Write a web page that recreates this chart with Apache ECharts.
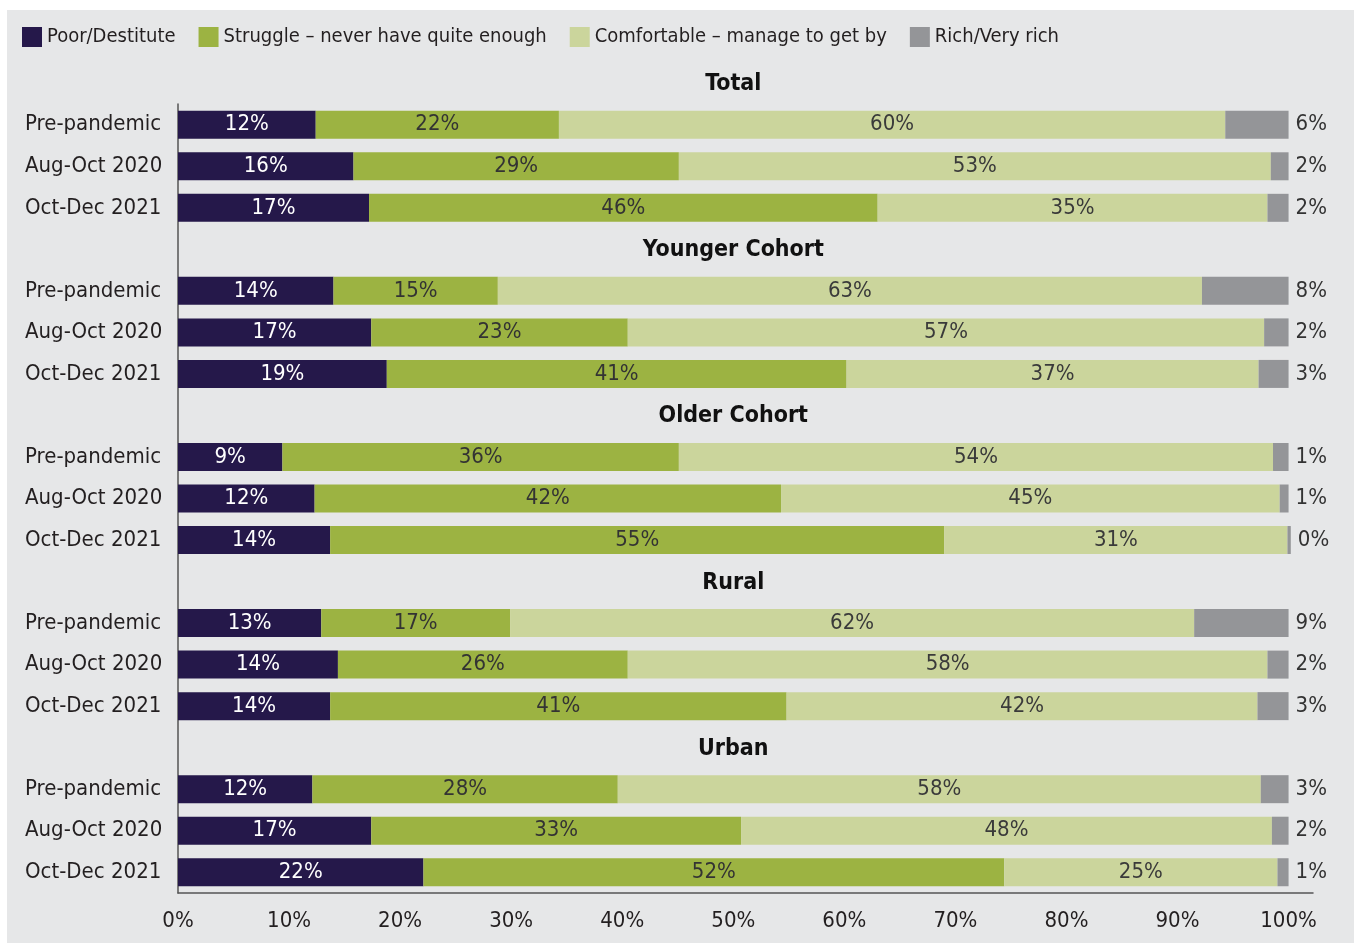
<!DOCTYPE html>
<html>
<head>
<meta charset="utf-8">
<script src="https://cdn.jsdelivr.net/npm/echarts@6/dist/echarts.min.js"></script>
<style>
  html, body { margin: 0; padding: 0; background: #ffffff; }
  #bg { position: absolute; left: 7px; top: 10px; right: 0; bottom: 0; background: #e6e7e8; }
  #chart { position: absolute; left: 0; top: 0; width: 1354px; height: 943px; }
</style>
</head>
<body>
<div id="bg"></div>
<div id="chart"></div>
<script>
// ---- data ----
const rowLabels = ['Pre-pandemic', 'Aug-Oct 2020', 'Oct-Dec 2021'];
const groupTitles = ['Total', 'Younger Cohort', 'Older Cohort', 'Rural', 'Urban'];
const seriesNames = ['Poor/Destitute', 'Struggle \u2013 never have quite enough', 'Comfortable \u2013 manage to get by', 'Rich/Very rich'];
// values per row, groups in order Total, Younger, Older, Rural, Urban (3 periods each)
const poor        = [12.4, 15.8, 17.2,  14.0, 17.4, 18.8,   9.4, 12.3, 13.7,  12.9, 14.4, 13.7,  12.1, 17.4, 22.1];
const struggle    = [21.9, 29.3, 45.8,  14.8, 23.1, 41.4,  35.7, 42.0, 55.3,  17.0, 26.1, 41.1,  27.5, 33.3, 52.3];
const comfortable = [60.0, 53.3, 35.1,  63.4, 57.3, 37.1,  53.5, 44.9, 30.9,  61.6, 57.6, 42.4,  57.9, 47.8, 24.6];
const rich        = [ 5.7,  1.6,  1.9,   7.8,  2.2,  2.7,   1.4,  0.8,  0.3,   8.5,  1.9,  2.8,   2.5,  1.5,  1.0];
const xTicks = [0, 10, 20, 30, 40, 50, 60, 70, 80, 90, 100];

// ---- build category rows (title rows between groups) ----
const categories = [];
const rowIndexOfValue = [];
const titleRowIndex = [];
groupTitles.forEach((g, gi) => {
  if (gi > 0) { titleRowIndex.push(categories.length); categories.push(''); }
  else { titleRowIndex.push(-1); }
  rowLabels.forEach((r, ri) => { rowIndexOfValue.push(categories.length); categories.push(r); });
});
function expand(arr) {
  const out = categories.map(() => null);
  arr.forEach((v, i) => { out[rowIndexOfValue[i]] = v; });
  return out;
}

const FONT = '"Liberation Sans Narrow", "DejaVu Sans Condensed", "Roboto Condensed", "Arial Narrow", sans-serif';
const colors = ['#25184a', '#9cb342', '#cbd59c', '#949598'];
const labelColors = ['#ffffff', '#333333', '#3a3a3a', '#333333'];
const fmt = p => (p.value == null ? '' : Math.round(p.value) + '%');

const chart = echarts.init(document.getElementById('chart'), null, { renderer: 'canvas' });

const barSeries = [poor, struggle, comfortable, rich].map((arr, i) => ({
  name: seriesNames[i],
  type: 'bar',
  stack: 'total',
  barWidth: 28,
  data: expand(arr),
  itemStyle: { color: colors[i] },
  label: {
    show: true,
    position: i === 3 ? 'right' : 'inside',
    distance: 7,
    formatter: fmt,
    color: labelColors[i],
    fontFamily: FONT,
    fontSize: 22
  },
  emphasis: { disabled: true }
}));

const titleSeries = {
  type: 'custom',
  silent: true,
  data: groupTitles.map((t, i) => [50, i]),
  encode: { x: 0, y: 1 },
  renderItem: function (params, api) {
    const p0 = api.coord([api.value(0), 0]);
    const p1 = api.coord([api.value(0), 1]);
    const step = p1[1] - p0[1];
    const row = titleRowIndex[params.dataIndex];
    return {
      type: 'text',
      x: p0[0],
      y: p0[1] + row * step + 1,
      style: {
        text: groupTitles[params.dataIndex],
        align: 'center',
        verticalAlign: 'middle',
        font: 'bold 23px ' + FONT,
        fill: '#111111'
      }
    };
  }
};

chart.setOption({
  animation: false,
  backgroundColor: 'transparent',
  textStyle: { fontFamily: FONT },
  legend: {
    data: seriesNames,
    left: 22,
    top: 27,
    padding: 0,
    itemWidth: 20,
    itemHeight: 20,
    itemGap: 23,
    icon: 'rect',
    textStyle: { fontFamily: FONT, fontSize: 20, color: '#231f20' },
    selectedMode: false
  },
  grid: { left: 178, right: 41, top: 104, height: 789, containLabel: false },
  xAxis: {
    type: 'value',
    min: 0,
    max: 102.2,
    interval: 10,
    axisLine: { show: true, lineStyle: { color: '#555555', width: 1.5 } },
    axisTick: { show: false },
    splitLine: { show: false },
    axisLabel: {
      showMaxLabel: false,
      margin: 17,
      fontFamily: FONT,
      fontSize: 22,
      color: '#231f20',
      formatter: v => (xTicks.indexOf(v) >= 0 ? v + '%' : '')
    }
  },
  yAxis: {
    type: 'category',
    inverse: true,
    data: categories,
    axisLine: { show: true, lineStyle: { color: '#555555', width: 1.5 } },
    axisTick: { show: false },
    splitLine: { show: false },
    axisLabel: {
      interval: 0,
      align: 'left',
      margin: 153,
      fontFamily: FONT,
      fontSize: 22,
      color: '#231f20'
    }
  },
  series: barSeries.concat([titleSeries])
});
</script>
</body>
</html>
